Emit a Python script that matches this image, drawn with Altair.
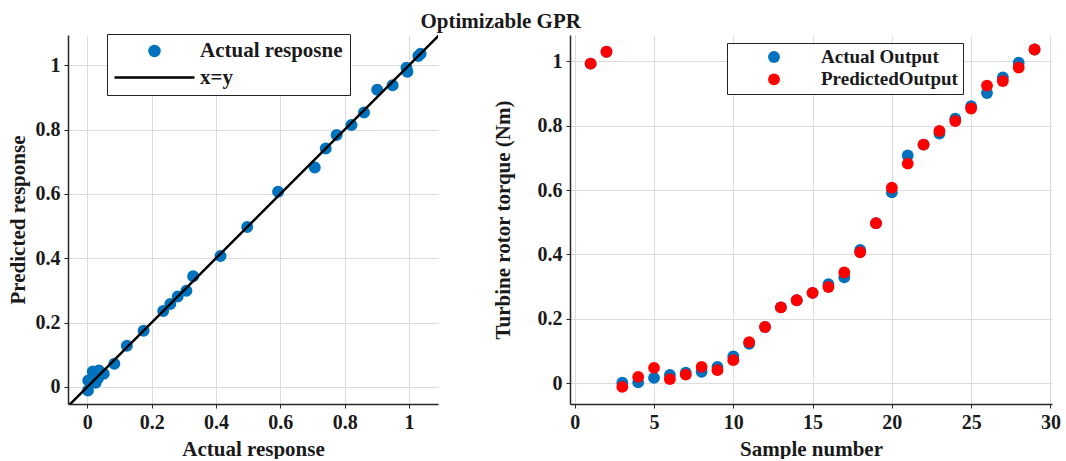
import altair as alt
import pandas as pd

# ---- data ----
sample = list(range(1, 30))
actual = [0.992, 1.029, 0.002, 0.003, 0.017, 0.026, 0.033, 0.036, 0.051, 0.084,
          0.123, 0.175, 0.236, 0.258, 0.281, 0.308, 0.329, 0.414, 0.497, 0.593,
          0.707, 0.741, 0.775, 0.821, 0.860, 0.901, 0.949, 0.995, 1.036]
predicted = [0.992, 1.029, -0.011, 0.020, 0.048, 0.013, 0.027, 0.051, 0.041, 0.072,
             0.128, 0.175, 0.236, 0.258, 0.281, 0.299, 0.344, 0.407, 0.497, 0.607,
             0.682, 0.741, 0.783, 0.814, 0.853, 0.924, 0.938, 0.980, 1.036]

series_left = ["Actual resposne", "x=y"]
series_right = ["Actual Output", "PredictedOutput"]
identity_ends = [-0.2, 1.3]

left_ticks = [0, 0.2, 0.4, 0.6, 0.8, 1]
right_xticks = [0, 5, 10, 15, 20, 25, 30]
right_yticks = [0, 0.2, 0.4, 0.6, 0.8, 1]

BLUE = "#0072BD"
RED = "#FF0000"
FONT = "Liberation Serif"
TXT = "#1a1a1a"

df_left = pd.DataFrame({"actual": actual, "predicted": predicted,
                        "series": series_left[0]})
df_line = pd.DataFrame({"actual": identity_ends, "predicted": identity_ends})
df_right = pd.concat([
    pd.DataFrame({"sample": sample, "value": actual, "series": series_right[0]}),
    pd.DataFrame({"sample": sample, "value": predicted, "series": series_right[1]}),
], ignore_index=True)

# ---- left panel ----
xs_left = alt.Scale(domain=[-0.06, 1.09], nice=False, zero=False)
ys_left = alt.Scale(domain=[-0.053, 1.094], nice=False, zero=False)

x_left = alt.X("actual:Q", scale=xs_left,
               axis=alt.Axis(title="Actual response", values=left_ticks, format="~g"))
y_left = alt.Y("predicted:Q", scale=ys_left,
               axis=alt.Axis(title="Predicted response", values=left_ticks, format="~g",
                             titlePadding=7))

leg_left = alt.Legend(title=None, orient="none", legendX=39, legendY=-1,
                      direction="vertical", fillColor="white", strokeColor="#222",
                      padding=7, symbolOffset=-1, labelOffset=4, rowPadding=5.5,
                      clipHeight=20,
                      labelFont=FONT, labelFontSize=21, labelFontWeight="bold",
                      labelColor=TXT, symbolStrokeWidth=2.5, labelLimit=0)

pts_left = alt.Chart(df_left).mark_point(filled=True, opacity=1, strokeWidth=2).encode(
    x=x_left,
    y=y_left,
    fill=alt.Fill("series:N", scale=alt.Scale(domain=series_left, range=[BLUE, "black"]),
                  legend=leg_left),
    stroke=alt.Stroke("series:N", scale=alt.Scale(domain=series_left, range=[BLUE, "black"]),
                      legend=leg_left),
    shape=alt.Shape("series:N", scale=alt.Scale(domain=series_left, range=["circle", "stroke"]),
                    legend=leg_left),
    size=alt.Size("series:N", scale=alt.Scale(type="ordinal", domain=series_left,
                                              range=[100, 6400]),
                  legend=leg_left),
)

line_left = alt.Chart(df_line).mark_line(color="black", strokeWidth=2.5, clip=True).encode(
    x=alt.X("actual:Q", scale=xs_left),
    y=alt.Y("predicted:Q", scale=ys_left),
)

left = alt.layer(pts_left, line_left).properties(width=370, height=369)

# ---- right panel ----
leg_right = alt.Legend(title=None, orient="none", legendX=157, legendY=8,
                       direction="vertical", fillColor="white", strokeColor="#222",
                       padding=4.5, symbolOffset=33, labelOffset=37.5, rowPadding=2.4,
                       clipHeight=19,
                       symbolType="circle", symbolSize=140, symbolStrokeWidth=0,
                       labelFont=FONT, labelFontSize=19, labelFontWeight="bold",
                       labelColor=TXT, labelLimit=0)

right = alt.Chart(df_right).mark_point(filled=True, opacity=1, size=140, strokeWidth=0).encode(
    x=alt.X("sample:Q", scale=alt.Scale(domain=[-0.3, 30.1], nice=False, zero=False),
            axis=alt.Axis(title="Sample number", values=right_xticks, format="~g")),
    y=alt.Y("value:Q", scale=alt.Scale(domain=[-0.064, 1.081], nice=False, zero=False),
            axis=alt.Axis(title="Turbine rotor torque (Nm)", values=right_yticks,
                          format="~g", titlePadding=24)),
    color=alt.Color("series:N", scale=alt.Scale(domain=series_right, range=[BLUE, RED]),
                    legend=leg_right),
).properties(width=482, height=369)

chart = alt.hconcat(left, right, spacing=132, bounds="flush").resolve_scale(
    x="independent", y="independent", color="independent", fill="independent",
    stroke="independent", shape="independent", size="independent",
).properties(
    title=alt.Title("Optimizable GPR", font=FONT, fontSize=21, fontWeight="bold",
                    color=TXT, anchor="middle", dx=-33, offset=2),
    padding={"left": 7, "top": 10, "right": 5, "bottom": 0},
    background="white",
).configure_view(stroke=None).configure_axis(
    labelFont=FONT, labelFontSize=20, labelFontWeight="bold", labelColor=TXT,
    titleFont=FONT, titleFontSize=21, titleFontWeight="bold", titleColor=TXT,
    gridColor="#dcdcdc", gridWidth=1, domainColor="#262626", domainWidth=1.5,
    tickColor="#262626", tickSize=4, labelPadding=4, titlePadding=6, labelFlush=False,
)

chart.save("out.html", embed_options={"renderer": "svg", "actions": False})
